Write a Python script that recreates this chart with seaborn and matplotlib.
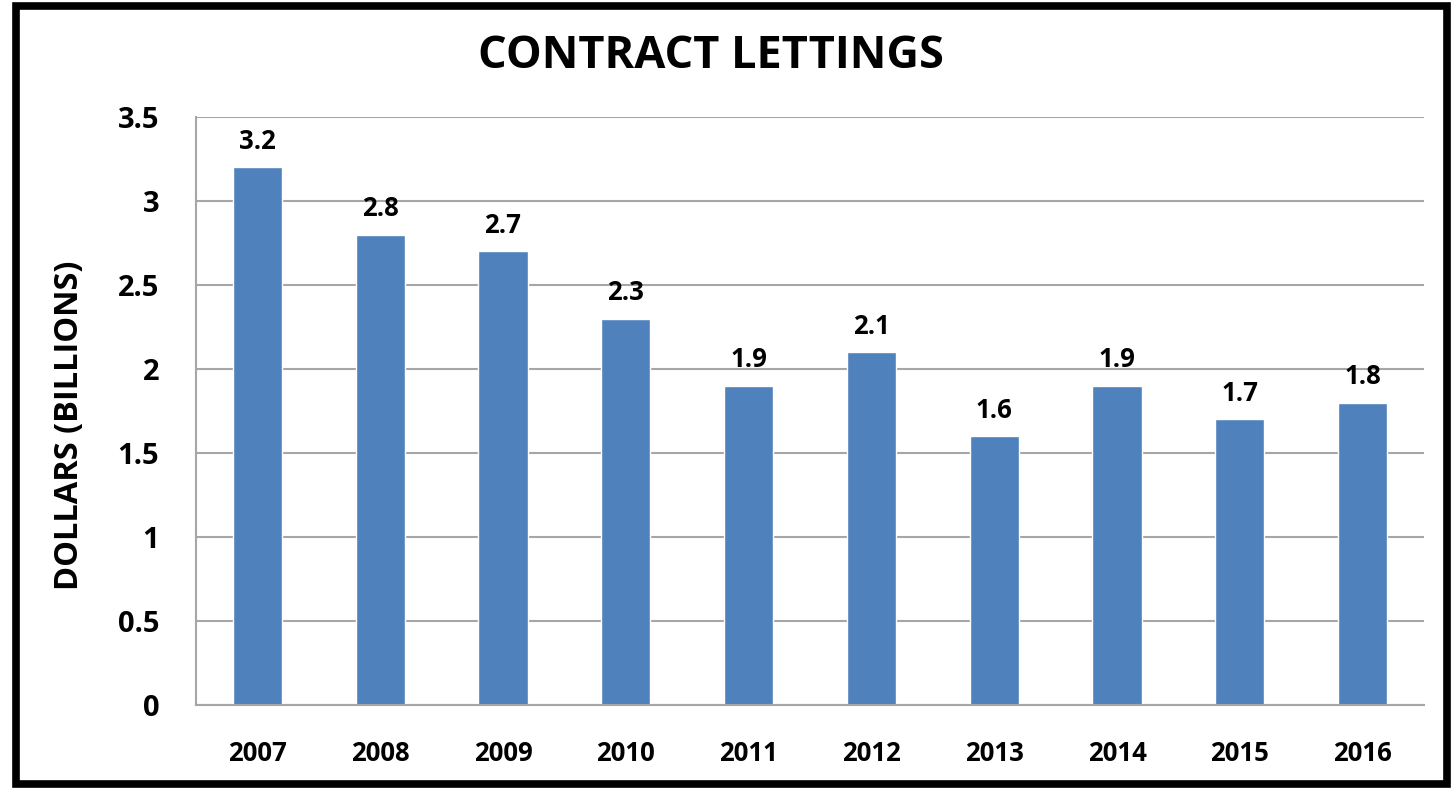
import matplotlib
matplotlib.use("Agg")
import matplotlib.pyplot as plt
import seaborn as sns
from matplotlib.patches import Rectangle

# data
years = ["2007", "2008", "2009", "2010", "2011", "2012", "2013", "2014", "2015", "2016"]
lettings = [3.2, 2.8, 2.7, 2.3, 1.9, 2.1, 1.6, 1.9, 1.7, 1.8]
y_ticks = [0, 0.5, 1, 1.5, 2, 2.5, 3, 3.5]
y_tick_labels = ["0", "0.5", "1", "1.5", "2", "2.5", "3", "3.5"]

sns.set_style("white")
plt.rcParams["font.family"] = ["Open Sans", "DejaVu Sans"]
plt.rcParams["font.weight"] = "bold"
plt.rcParams["text.color"] = "black"
plt.rcParams["xtick.color"] = "black"
plt.rcParams["ytick.color"] = "black"

fig = plt.figure(figsize=(14.51, 7.9), dpi=100)
ax = fig.add_axes([196 / 1451, 1 - 705 / 790, (1424 - 196) / 1451, (705 - 117) / 790])

sns.barplot(x=years, y=lettings, color="#4f81bd", saturation=1, width=0.4, ax=ax)

ax.set_ylim(0, 3.5)
ax.set_xlim(-0.5, len(years) - 0.5)
ax.set_yticks(y_ticks)
ax.set_yticklabels(y_tick_labels, fontsize=21, fontweight="bold")
ax.set_xticklabels(years, fontsize=18.5, fontweight="bold")

grid_col = "#a6a6a6"
ax.yaxis.grid(True, color=grid_col, linewidth=1.5)
ax.set_axisbelow(True)
for s in ["top", "right"]:
    ax.spines[s].set_visible(False)
for s in ["left", "bottom"]:
    ax.spines[s].set_color(grid_col)
    ax.spines[s].set_linewidth(1.5)

# y ticks look like gridlines poking out left; x ticks sit between categories
ax.tick_params(axis="y", direction="out", length=9.5, width=1.1, color=grid_col, pad=17)
ax.tick_params(axis="x", which="major", length=0, pad=25)
ax.set_xticks([i - 0.5 for i in range(len(years) + 1)], minor=True)
ax.tick_params(axis="x", which="minor", direction="out", length=7, width=1.1, color=grid_col)

ax.bar_label(ax.containers[0], fmt="%.1f", padding=9, fontsize=18.5, fontweight="bold")

ax.set_xlabel("")
ax.set_ylabel("")
fig.text(70 / 1451, 1 - 425 / 790, "DOLLARS (BILLIONS)", rotation=90, ha="center",
         va="center", fontsize=23.5, fontweight="bold")
fig.text(711 / 1451, 1 - 56 / 790, "CONTRACT LETTINGS", ha="center", va="center",
         fontsize=32.5, fontweight="bold")

# black frame around the whole picture
fig.patches.append(Rectangle((16 / 1451, 6 / 790), (1447 - 16) / 1451, (784 - 6) / 790,
                             transform=fig.transFigure, fill=False, edgecolor="black",
                             linewidth=5.5))

fig.savefig("out.png", dpi=100)
